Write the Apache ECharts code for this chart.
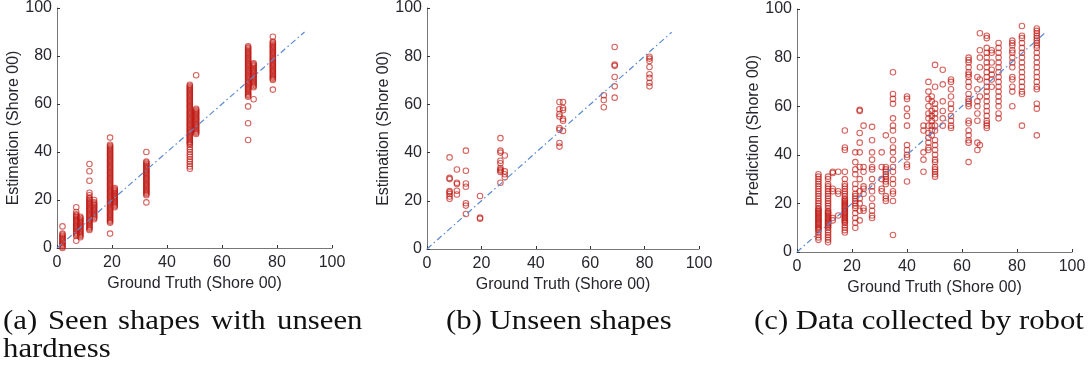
<!DOCTYPE html>
<html>
<head>
<meta charset="utf-8">
<script src="https://cdn.jsdelivr.net/npm/echarts@6/dist/echarts.min.js"></script>
<style>
  html, body { margin: 0; padding: 0; background: #fff; }
  #chart { width: 1090px; height: 370px; }
</style>
</head>
<body>
<div id="chart"></div>
<script>
// (a) seen shapes with unseen hardness: ground truth x, estimations per x
const seenX = [2, 7, 8.5, 11.8, 13.5, 19.3, 21, 32.5, 48.3, 50.6, 69.5, 71.5, 78.5];
const seenY = [
    [0, 0.5, 1, 1.5, 2, 2.5, 3, 3.5, 4, 4.5, 5, 5.5, 6, 9],
    [3, 5, 5.5, 6, 6.5, 7, 7.5, 8, 8.5, 9, 9.5, 10, 10.5, 11, 11.5, 12, 12.5, 13, 13.5, 14, 15, 17],
    [4.5, 5, 5.5, 6, 6.5, 7, 7.5, 8, 8.5, 9, 9.5, 10, 10.5, 11, 11.5, 12, 12.5, 13],
    [7.5, 8, 8.5, 9, 9.5, 10, 10.5, 11, 11.5, 12, 12.5, 13, 13.5, 14, 14.5, 15, 15.5, 16, 16.5, 17, 17.5, 18, 18.5, 19, 19.5, 20, 20.5, 21, 22, 23, 28, 32, 35],
    [12, 12.5, 13, 13.5, 14, 14.5, 15, 15.5, 16, 16.5, 17, 17.5, 18, 18.5, 19, 20],
    [6, 10.5, 11, 11.5, 12, 12.5, 13, 13.5, 14, 14.5, 15, 15.5, 16, 16.5, 17, 17.5, 18, 18.5, 19, 19.5, 20, 20.5, 21, 21.5, 22, 22.5, 23, 23.5, 24, 24.5, 25, 25.5, 26, 26.5, 27, 27.5, 28, 28.5, 29, 29.5, 30, 30.5, 31, 31.5, 32, 32.5, 33, 33.5, 34, 34.5, 35, 35.5, 36, 36.5, 37, 37.5, 38, 38.5, 39, 39.5, 40, 40.5, 41, 41.5, 42, 42.5, 43, 46],
    [17, 17.5, 18, 18.5, 19, 19.5, 20, 20.5, 21, 21.5, 22, 22.5, 23, 23.5, 24, 24.5, 25],
    [19, 22, 22.5, 23, 23.5, 24, 24.5, 25, 25.5, 26, 26.5, 27, 27.5, 28, 28.5, 29, 29.5, 30, 30.5, 31, 31.5, 32, 32.5, 33, 33.5, 34, 34.5, 35, 35.5, 36, 40],
    [33, 34, 35, 36, 37, 38, 39, 40, 41, 42, 43, 43.5, 44, 44.5, 45, 45.5, 46, 46.5, 47, 47.5, 48, 48.5, 49, 49.5, 50, 50.5, 51, 51.5, 52, 52.5, 53, 53.5, 54, 54.5, 55, 55.5, 56, 56.5, 57, 57.5, 58, 58.5, 59, 59.5, 60, 60.5, 61, 61.5, 62, 62.5, 63, 63.5, 64, 64.5, 65, 65.5, 66, 66.5, 67, 67.5, 68],
    [47.5, 48, 48.5, 49, 49.5, 50, 50.5, 51, 51.5, 52, 52.5, 53, 53.5, 54, 54.5, 55, 55.5, 56, 56.5, 57, 57.5, 58, 72],
    [45, 52, 59, 63, 63.5, 64, 64.5, 65, 65.5, 66, 66.5, 67, 67.5, 68, 68.5, 69, 69.5, 70, 70.5, 71, 71.5, 72, 72.5, 73, 73.5, 74, 74.5, 75, 75.5, 76, 76.5, 77, 77.5, 78, 78.5, 79, 79.5, 80, 80.5, 81, 81.5, 82, 82.5, 83, 83.5, 84],
    [62, 67, 67.5, 68, 68.5, 69, 69.5, 70, 70.5, 71, 71.5, 72, 72.5, 73, 73.5, 74, 74.5, 75, 75.5, 76, 76.5, 77],
    [66, 70, 70.5, 71, 71.5, 72, 72.5, 73, 73.5, 74, 74.5, 75, 75.5, 76, 76.5, 77, 77.5, 78, 78.5, 79, 79.5, 80, 80.5, 81, 81.5, 82, 82.5, 83, 83.5, 84, 84.5, 85, 85.5, 86, 88]
];

// (b) unseen shapes
const unseenX = [8.3, 11, 14.3, 19.5, 27, 28.6, 48.7, 50, 65, 69, 81.8];
const unseenY = [
    [38, 29.5, 29, 24, 23.5, 22.8, 21.8, 20.8],
    [33, 27.5, 27, 24.2, 22.6],
    [40.8, 32.5, 27.2, 25.8, 19, 18, 14.5],
    [22, 13, 12.6],
    [46, 40.8, 40, 36.6, 35.6, 33.6, 33, 32.6, 32, 27.5],
    [38.8, 32.2, 31, 29.8],
    [61, 58, 56, 55, 50.2, 49.5, 44, 42.5],
    [61, 58.5, 57.6, 54, 53.2, 49],
    [63.8, 61.8, 58.8],
    [83.8, 76.5, 76, 71.4, 67.5, 62.8],
    [79.8, 79, 78, 75.5, 72.5, 71, 69, 67.5]
];

// (c) data collected by robot
const robotX = [7.8, 11.3, 13, 15, 17.4, 21.2, 22.8, 24.2, 27.3, 30.8, 32.3, 34.9, 40, 46, 47.8, 49, 50.2, 53, 56, 62.4, 65.6, 66.5, 69, 70.8, 73.3, 78.3, 81.8, 87.2];
const robotY = [
    [5, 6, 7, 8, 9, 9.5, 10, 10.5, 11, 11.5, 12, 12.5, 13, 13.5, 14, 14.5, 15, 15.5, 16, 16.5, 17, 17.5, 18, 19, 20, 21, 22, 23, 24, 25, 26, 27, 28, 29, 30, 31, 32],
    [4, 5, 6, 7, 8, 9, 10, 10.5, 11, 11.5, 12, 12.5, 13, 13.5, 14, 14.5, 15, 15.5, 16, 16.5, 17, 18, 19, 20, 21, 22, 23, 24, 25, 26, 27, 28, 30, 31],
    [33, 32.5, 26, 25, 14, 13],
    [33, 25, 24, 15],
    [8, 9, 10, 11, 12, 12.5, 13, 13.5, 14, 14.5, 15, 15.5, 16, 16.5, 17, 17.5, 18, 18.5, 19, 19.5, 20, 20.5, 21, 21.5, 22, 23, 24, 25, 26, 27, 28, 30, 33, 42, 43, 50],
    [41, 37, 34, 32, 28, 26, 24, 23, 22, 21, 20, 19, 18, 16, 14, 12, 10],
    [58.5, 58, 49, 45, 41, 35, 30, 25, 22, 20, 17, 13],
    [52, 35, 33, 27, 26, 24, 18, 17],
    [51.5, 46, 41, 38, 35, 34, 30, 27, 25, 22, 19, 17, 15, 14],
    [41, 35, 30, 26, 25],
    [48, 35, 34, 33, 32, 31, 30, 29, 28, 23, 22, 21],
    [74, 65, 63, 61, 55, 52, 50, 46, 43, 41, 38, 35, 33, 30, 28, 25, 24, 21, 7],
    [64, 63, 59, 56, 52, 44, 42, 40, 39, 36, 35, 29],
    [52, 50, 41, 38, 33],
    [70, 66, 63, 60, 57, 55, 52, 49, 47, 45, 43, 42],
    [64, 62, 58, 56, 54, 52, 50, 48],
    [77, 68, 61, 59, 57, 55, 52, 50, 46, 44, 42, 40, 38, 37, 35, 34, 33, 32, 31],
    [75, 69, 62, 58, 55, 52],
    [71, 70, 67, 64, 61, 59, 56, 54, 52, 51],
    [80, 79, 78, 76, 74, 73, 72, 70, 68, 65, 63, 62, 61, 60, 54, 53, 50, 48, 46, 45, 37],
    [72, 67, 62, 60, 57, 54, 45, 42],
    [90, 83, 80, 76, 71, 64, 44],
    [89, 88, 84, 82, 80, 78, 76, 74, 72, 70, 68, 66, 64, 62, 60, 58, 56, 54, 53, 52, 51],
    [83, 82, 78, 75, 73, 71, 68],
    [86, 84, 82, 80, 78, 76, 74, 72, 70, 68, 66, 64, 62, 60, 57, 55],
    [87, 86, 85, 83, 82, 80, 78, 76, 72, 71, 68, 66, 60],
    [93, 89, 88, 86, 84, 82, 80, 78, 76, 74, 72, 70, 68, 66, 65, 52],
    [92, 91, 90, 89, 88, 87, 86, 85, 84, 82, 80, 78, 76, 74, 72, 70, 68, 67, 61, 59, 48]
];

const identityLine = [[0, 0], [90, 90]];
const yTitles = ['Estimation (Shore 00)', 'Estimation (Shore 00)', 'Prediction (Shore 00)'];
const xTitle = 'Ground Truth (Shore 00)';

let toPairs = (xs, ys) => {
    let pairs = [];
    xs.forEach((x, i) => {
        ys[i].forEach(y => pairs.push([x, y]));
    });
    return pairs;
};

let panels = [
    { grid: { left: 57, top: 7, width: 275, height: 241 }, data: toPairs(seenX, seenY) },
    { grid: { left: 427, top: 7, width: 272, height: 242 }, data: toPairs(unseenX, unseenY) },
    { grid: { left: 797, top: 9, width: 275, height: 243 }, data: toPairs(robotX, robotY) }
];

let textColor = '#26262e';
let labelFont = { color: textColor, fontSize: 16, fontFamily: 'Liberation Sans' };

// captions, (a) is justified in the source so its words are placed one by one
let captionFont = '27px "Liberation Serif"';
let captions = [
    ['(a)', 3, 308], ['Seen', 48, 308], ['shapes', 118, 308], ['with', 211, 308], ['unseen', 277, 308],
    ['hardness', 3, 336],
    ['(b) Unseen shapes', 446, 308],
    ['(c) Data collected by robot', 754, 308]
];

let chart = echarts.init(document.getElementById('chart'));

let option = {
    animation: false,
    backgroundColor: '#fff',
    grid: panels.map(p => p.grid),
    xAxis: panels.map((p, i) => ({
        gridIndex: i,
        type: 'value',
        min: 0,
        max: 100,
        interval: 20,
        name: xTitle,
        nameLocation: 'middle',
        nameGap: 27,
        nameTextStyle: labelFont,
        axisLine: { lineStyle: { color: '#777', width: 1 } },
        axisTick: { inside: true, length: 3, lineStyle: { color: '#333' } },
        axisLabel: Object.assign({ margin: 7 }, labelFont),
        splitLine: { show: false }
    })),
    yAxis: panels.map((p, i) => ({
        gridIndex: i,
        type: 'value',
        min: 0,
        max: 100,
        interval: 20,
        name: yTitles[i],
        nameLocation: 'middle',
        nameGap: 33,
        nameTextStyle: labelFont,
        axisLine: { show: true, lineStyle: { color: '#777', width: 1 } },
        axisTick: { show: true, inside: true, length: 3, lineStyle: { color: '#333' } },
        axisLabel: Object.assign({ margin: 5 }, labelFont),
        splitLine: { show: false }
    })),
    series: [].concat(...panels.map((p, i) => [
        {
            type: 'line',
            xAxisIndex: i,
            yAxisIndex: i,
            data: identityLine,
            symbol: 'none',
            silent: true,
            lineStyle: { color: '#5a8bd2', width: 1.2, type: [6, 3, 1.5, 3] },
            z: 3
        },
        {
            type: 'scatter',
            xAxisIndex: i,
            yAxisIndex: i,
            data: p.data,
            symbol: 'circle',
            symbolSize: 5.5,
            itemStyle: {
                color: 'rgba(0,0,0,0)',
                borderColor: 'rgba(192, 28, 22, 0.85)',
                borderWidth: 1.1
            },
            z: 2
        }
    ])),
    graphic: captions.map(c => ({
        type: 'text',
        x: c[1],
        y: c[2],
        scaleX: 1.14,
        style: { text: c[0], font: captionFont, fill: '#111' }
    }))
};

chart.setOption(option);
</script>
</body>
</html>
